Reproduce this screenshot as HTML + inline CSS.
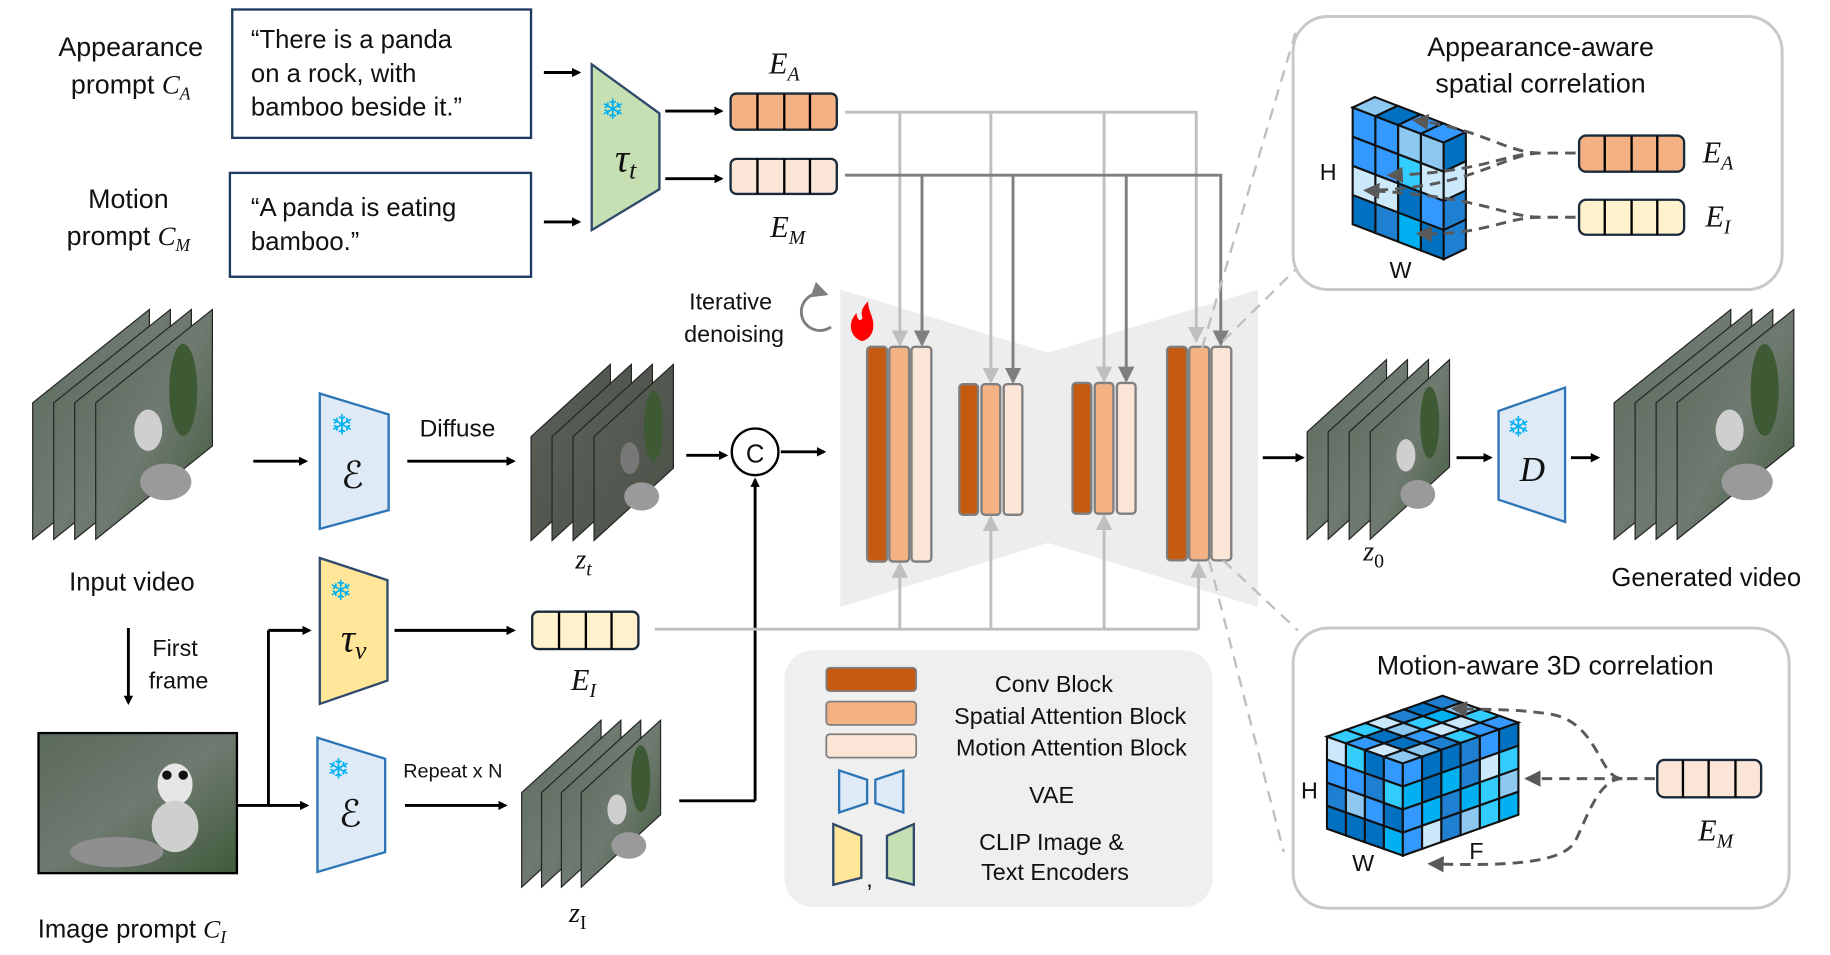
<!DOCTYPE html>
<html><head><meta charset="utf-8"><style>
html,body{margin:0;padding:0;background:#fff;}
svg{display:block;}
text{font-family:"Liberation Sans","DejaVu Sans",sans-serif;fill:#111;}
.m{font-family:"Liberation Serif","DejaVu Serif",serif;font-style:italic;}
</style></head><body>
<svg id="s" width="1830" height="955" viewBox="0 0 1568 818" xmlns="http://www.w3.org/2000/svg">
<defs>
<marker id="ab" markerWidth="8" markerHeight="8" refX="6" refY="4" orient="auto" markerUnits="userSpaceOnUse"><path d="M0,0 L8,4 L0,8 z" fill="#000"/></marker>
<marker id="al" markerWidth="14" markerHeight="14" refX="12" refY="7" orient="auto" markerUnits="userSpaceOnUse"><path d="M0,0 L14,7 L0,14 z" fill="#bfbfbf"/></marker>
<marker id="ad" markerWidth="14" markerHeight="14" refX="12" refY="7" orient="auto" markerUnits="userSpaceOnUse"><path d="M0,0 L14,7 L0,14 z" fill="#7f7f7f"/></marker>
<marker id="ag" markerWidth="14" markerHeight="14" refX="12" refY="7" orient="auto" markerUnits="userSpaceOnUse"><path d="M0,0 L14,7 L0,14 z" fill="#595959"/></marker>
<linearGradient id="pg" x1="0" y1="0" x2="1" y2="1"><stop offset="0" stop-color="#5a6a5c"/><stop offset="0.5" stop-color="#6f7a70"/><stop offset="1" stop-color="#3f5a3a"/></linearGradient>
<linearGradient id="ng" x1="0" y1="0" x2="1" y2="1"><stop offset="0" stop-color="#5b5f58"/><stop offset="1" stop-color="#4a5247"/></linearGradient>
</defs>

<polygon points="720,248 898,302 1078,248 1078,520 898,465 720,520" fill="#ededed"/>

<text x="112" y="48" font-size="23" text-anchor="middle">Appearance</text>
<text x="112" y="80" font-size="23" text-anchor="middle">prompt <tspan class="m">C</tspan><tspan class="m" font-size="15" dy="5">A</tspan></text>
<text x="110" y="178" font-size="23" text-anchor="middle">Motion</text>
<text x="110" y="210" font-size="23" text-anchor="middle">prompt <tspan class="m">C</tspan><tspan class="m" font-size="15" dy="5">M</tspan></text>
<rect x="199" y="8" width="256" height="110" fill="#fff" stroke="#1f3a5f" stroke-width="2"/>
<text x="215" y="41" font-size="22">“There is a panda</text>
<text x="215" y="70" font-size="22">on a rock, with</text>
<text x="215" y="99" font-size="22">bamboo beside it.”</text>
<rect x="197" y="148" width="258" height="89" fill="#fff" stroke="#1f3a5f" stroke-width="2"/>
<text x="215" y="185" font-size="22">“A panda is eating</text>
<text x="215" y="214" font-size="22">bamboo.”</text>

<g stroke="#000" stroke-width="2.5" marker-end="url(#ab)">
<line x1="466" y1="62" x2="496" y2="62"/>
<line x1="466" y1="190" x2="496" y2="190"/>
<line x1="570" y1="95" x2="618" y2="95"/>
<line x1="570" y1="153" x2="618" y2="153"/>
<line x1="217" y1="395" x2="262" y2="395"/>
<line x1="349" y1="395" x2="440" y2="395"/>
<line x1="588" y1="390" x2="622" y2="390"/>
<line x1="669" y1="387" x2="706" y2="387"/>
<line x1="110" y1="538" x2="110" y2="602"/>
<line x1="230" y1="540" x2="265" y2="540"/>
<line x1="230" y1="690" x2="263" y2="690"/>
<line x1="338" y1="540" x2="440" y2="540"/>
<line x1="347" y1="690" x2="433" y2="690"/>
<line x1="647" y1="686" x2="647" y2="411"/>
<line x1="1082" y1="392" x2="1116" y2="392"/>
<line x1="1248" y1="392" x2="1277" y2="392"/>
<line x1="1346" y1="392" x2="1369" y2="392"/>
</g>
<g stroke="#000" stroke-width="2.5" fill="none">
<polyline points="203,690 230,690 230,540"/>
<polyline points="582,686 647,686"/>
</g>

<polygon points="507,55 565,97 565,162 507,197" fill="#c6e0b4" stroke="#2f4a6a" stroke-width="2"/>
<text x="525" y="102" font-size="24" text-anchor="middle" style="fill:#00b0f0">❄</text>
<text x="536" y="147" class="m" font-size="34" text-anchor="middle">τ<tspan font-size="22" dy="6">t</tspan></text>

<rect x="626" y="80" width="91" height="31" rx="5" fill="#f4b183" stroke="#1a2a3a" stroke-width="2"/>
<rect x="626" y="136" width="91" height="30" rx="5" fill="#fbe5d6" stroke="#1a2a3a" stroke-width="2"/>
<rect x="456" y="524" width="91" height="32" rx="5" fill="#fff2cc" stroke="#1a2a3a" stroke-width="2"/>
<g stroke="#000" stroke-width="2">
<line x1="649" y1="80" x2="649" y2="111"/><line x1="672" y1="80" x2="672" y2="111"/><line x1="694" y1="80" x2="694" y2="111"/>
<line x1="649" y1="136" x2="649" y2="166"/><line x1="672" y1="136" x2="672" y2="166"/><line x1="694" y1="136" x2="694" y2="166"/>
<line x1="479" y1="524" x2="479" y2="556"/><line x1="502" y1="524" x2="502" y2="556"/><line x1="524" y1="524" x2="524" y2="556"/>
</g>
<text x="672" y="63" class="m" font-size="26" text-anchor="middle">E<tspan font-size="17" dy="6">A</tspan></text>
<text x="675" y="203" class="m" font-size="26" text-anchor="middle">E<tspan font-size="17" dy="6">M</tspan></text>
<text x="500" y="591" class="m" font-size="26" text-anchor="middle">E<tspan font-size="17" dy="6">I</tspan></text>

<g fill="none" stroke-width="2.5">
<polyline points="724,96 1025,96 1025,292" stroke="#bfbfbf" marker-end="url(#al)"/>
<line x1="771" y1="96" x2="771" y2="295" stroke="#bfbfbf" marker-end="url(#al)"/>
<line x1="849" y1="96" x2="849" y2="327" stroke="#bfbfbf" marker-end="url(#al)"/>
<line x1="946" y1="96" x2="946" y2="326" stroke="#bfbfbf" marker-end="url(#al)"/>
<polyline points="724,150 1046,150 1046,295" stroke="#7f7f7f" marker-end="url(#ad)"/>
<line x1="790" y1="150" x2="790" y2="295" stroke="#7f7f7f" marker-end="url(#ad)"/>
<line x1="868" y1="150" x2="868" y2="327" stroke="#7f7f7f" marker-end="url(#ad)"/>
<line x1="965" y1="150" x2="965" y2="326" stroke="#7f7f7f" marker-end="url(#ad)"/>
<polyline points="561,539 1027,539" stroke="#bfbfbf"/>
<line x1="771" y1="539" x2="771" y2="483" stroke="#bfbfbf" marker-end="url(#al)"/>
<line x1="849" y1="539" x2="849" y2="443" stroke="#bfbfbf" marker-end="url(#al)"/>
<line x1="946" y1="539" x2="946" y2="442" stroke="#bfbfbf" marker-end="url(#al)"/>
<line x1="1027" y1="539" x2="1027" y2="483" stroke="#bfbfbf" marker-end="url(#al)"/>
</g>

<g stroke="#7f7f7f" stroke-width="2">
<rect x="743" y="297" width="17" height="184" rx="3" fill="#c55a11"/>
<rect x="762" y="297" width="17" height="184" rx="3" fill="#f4b183"/>
<rect x="781" y="297" width="17" height="184" rx="3" fill="#fbe5d6"/>
<rect x="822" y="329" width="16" height="112" rx="3" fill="#c55a11"/>
<rect x="841" y="329" width="16" height="112" rx="3" fill="#f4b183"/>
<rect x="860" y="329" width="16" height="112" rx="3" fill="#fbe5d6"/>
<rect x="919" y="328" width="16" height="112" rx="3" fill="#c55a11"/>
<rect x="938" y="328" width="16" height="112" rx="3" fill="#f4b183"/>
<rect x="957" y="328" width="16" height="112" rx="3" fill="#fbe5d6"/>
<rect x="1000" y="297" width="17" height="183" rx="3" fill="#c55a11"/>
<rect x="1019" y="297" width="17" height="183" rx="3" fill="#f4b183"/>
<rect x="1038" y="297" width="17" height="183" rx="3" fill="#fbe5d6"/>
</g>

<text x="626" y="265" font-size="20" text-anchor="middle">Iterative</text>
<text x="629" y="293" font-size="20" text-anchor="middle">denoising</text>
<path d="M712,280 A16,16 0 1 1 708,252" fill="none" stroke="#7f7f7f" stroke-width="2.5" marker-end="url(#ad)"/>
<path d="M738,292 C728,288 726,276 734,268 C734,274 738,276 739,272 C737,266 740,262 744,258 C743,266 750,272 748,282 C747,288 742,292 738,292 z" fill="#ff0000"/>

<g id="frames"></g>

<text x="113" y="506" font-size="22" text-anchor="middle">Input video</text>
<text x="150" y="562" font-size="20" text-anchor="middle">First</text>
<text x="153" y="590" font-size="20" text-anchor="middle">frame</text>
<rect x="33" y="628" width="170" height="120" fill="url(#pg)" stroke="#000" stroke-width="2"/>
<ellipse cx="150" cy="672" rx="15" ry="18" fill="#e6e6e6"/><ellipse cx="143" cy="664" rx="4" ry="4" fill="#111"/><ellipse cx="157" cy="664" rx="4" ry="4" fill="#111"/>
<ellipse cx="150" cy="708" rx="20" ry="22" fill="#cfcfcf"/>
<ellipse cx="100" cy="730" rx="40" ry="13" fill="#8f8f8f"/>
<text x="113" y="803" font-size="22" text-anchor="middle">Image prompt <tspan class="m">C</tspan><tspan class="m" font-size="15" dy="5">I</tspan></text>

<polygon points="274,337 333,355 333,437 274,453" fill="#deebf7" stroke="#2e75b6" stroke-width="2"/>
<text x="293" y="372" font-size="24" text-anchor="middle" style="fill:#00b0f0">❄</text>
<text x="302" y="418" font-size="32" text-anchor="middle">ℰ</text>
<text x="392" y="374" font-size="21" text-anchor="middle">Diffuse</text>
<polygon points="274,478 332,497 332,583 274,603" fill="#ffe699" stroke="#2f4a6a" stroke-width="2"/>
<text x="292" y="514" font-size="24" text-anchor="middle" style="fill:#00b0f0">❄</text>
<text x="303" y="558" class="m" font-size="34" text-anchor="middle">τ<tspan font-size="22" dy="6">v</tspan></text>
<polygon points="272,632 330,650 330,730 272,747" fill="#deebf7" stroke="#2e75b6" stroke-width="2"/>
<text x="290" y="667" font-size="24" text-anchor="middle" style="fill:#00b0f0">❄</text>
<text x="300" y="708" font-size="32" text-anchor="middle">ℰ</text>
<text x="388" y="666" font-size="17" text-anchor="middle">Repeat x N</text>

<text x="500" y="487" class="m" font-size="24" text-anchor="middle">z<tspan font-size="17" dy="6">t</tspan></text>
<text x="495" y="790" class="m" font-size="24" text-anchor="middle">z<tspan font-size="17" dy="6" style="font-style:normal">I</tspan></text>
<text x="1177" y="480" class="m" font-size="24" text-anchor="middle">z<tspan font-size="17" dy="6" style="font-style:normal">0</tspan></text>

<circle cx="647" cy="387" r="20" fill="#fff" stroke="#000" stroke-width="2"/>
<text x="647" y="396" font-size="22" text-anchor="middle">C</text>

<polygon points="1284,352 1341,332 1341,447 1284,428" fill="#deebf7" stroke="#2e75b6" stroke-width="2"/>
<text x="1301" y="374" font-size="24" text-anchor="middle" style="fill:#00b0f0">❄</text>
<text x="1313" y="412" class="m" font-size="30" text-anchor="middle">D</text>
<text x="1462" y="502" font-size="22" text-anchor="middle">Generated video</text>

<rect x="672" y="557" width="367" height="220" rx="25" fill="#efefef"/>
<rect x="708" y="572" width="77" height="20" rx="3" fill="#c55a11" stroke="#7f7f7f" stroke-width="1.5"/>
<rect x="708" y="601" width="77" height="20" rx="3" fill="#f4b183" stroke="#7f7f7f" stroke-width="1.5"/>
<rect x="708" y="629" width="77" height="20" rx="3" fill="#fbe5d6" stroke="#7f7f7f" stroke-width="1.5"/>
<text x="903" y="593" font-size="20" text-anchor="middle">Conv Block</text>
<text x="917" y="620" font-size="20" text-anchor="middle">Spatial Attention Block</text>
<text x="918" y="647" font-size="20" text-anchor="middle">Motion Attention Block</text>
<polygon points="719,660 743,668 743,688 719,696" fill="#deebf7" stroke="#2e75b6" stroke-width="2"/>
<polygon points="750,668 774,660 774,696 750,688" fill="#deebf7" stroke="#2e75b6" stroke-width="2"/>
<text x="901" y="688" font-size="20" text-anchor="middle">VAE</text>
<polygon points="714,706 738,716 738,752 714,758" fill="#ffe699" stroke="#2f4a6a" stroke-width="2"/>
<text x="745" y="760" font-size="20" text-anchor="middle">,</text>
<polygon points="760,716 783,706 783,758 760,752" fill="#c6e0b4" stroke="#2f4a6a" stroke-width="2"/>
<text x="901" y="728" font-size="20" text-anchor="middle">CLIP Image &amp;</text>
<text x="904" y="754" font-size="20" text-anchor="middle">Text Encoders</text>

<g stroke="#bfbfbf" stroke-width="2" stroke-dasharray="10,7" fill="none">
<line x1="1030" y1="298" x2="1110" y2="28"/>
<line x1="1048" y1="292" x2="1115" y2="226"/>
<line x1="1048" y1="480" x2="1112" y2="540"/>
<line x1="1036" y1="480" x2="1100" y2="730"/>
</g>

<rect x="1108" y="14" width="419" height="234" rx="30" fill="#fff" stroke="#c8c8c8" stroke-width="2.5"/>
<text x="1320" y="48" font-size="23" text-anchor="middle">Appearance-aware</text>
<text x="1320" y="79" font-size="23" text-anchor="middle">spatial correlation</text>
<text x="1138" y="154" font-size="20" text-anchor="middle">H</text>
<text x="1200" y="238" font-size="20" text-anchor="middle">W</text>
<rect x="1353" y="116" width="90" height="31" rx="6" fill="#f4b183" stroke="#1a2a3a" stroke-width="2"/>
<rect x="1353" y="171" width="90" height="30" rx="6" fill="#fff2cc" stroke="#1a2a3a" stroke-width="2"/>
<g stroke="#000" stroke-width="2">
<line x1="1375" y1="116" x2="1375" y2="147"/><line x1="1398" y1="116" x2="1398" y2="147"/><line x1="1420" y1="116" x2="1420" y2="147"/>
<line x1="1375" y1="171" x2="1375" y2="201"/><line x1="1398" y1="171" x2="1398" y2="201"/><line x1="1420" y1="171" x2="1420" y2="201"/>
</g>
<text x="1472" y="139" class="m" font-size="26" text-anchor="middle">E<tspan font-size="17" dy="6">A</tspan></text>
<text x="1472" y="194" class="m" font-size="26" text-anchor="middle">E<tspan font-size="17" dy="6">I</tspan></text>

<rect x="1108" y="538" width="425" height="240" rx="30" fill="#fff" stroke="#c8c8c8" stroke-width="2.5"/>
<text x="1324" y="578" font-size="23" text-anchor="middle">Motion-aware 3D correlation</text>
<text x="1122" y="684" font-size="20" text-anchor="middle">H</text>
<text x="1168" y="746" font-size="20" text-anchor="middle">W</text>
<text x="1265" y="736" font-size="20" text-anchor="middle">F</text>
<rect x="1420" y="651" width="89" height="32" rx="6" fill="#fbe5d6" stroke="#1a2a3a" stroke-width="2"/>
<g stroke="#000" stroke-width="2">
<line x1="1442" y1="651" x2="1442" y2="683"/><line x1="1464" y1="651" x2="1464" y2="683"/><line x1="1487" y1="651" x2="1487" y2="683"/>
</g>
<text x="1470" y="720" class="m" font-size="26" text-anchor="middle">E<tspan font-size="17" dy="6">M</tspan></text>

<g id="cubes"></g>

<g stroke="#595959" stroke-width="2.5" stroke-dasharray="9,6" fill="none">
<path d="M1350,131 L1320,131 C1290,131 1270,110 1212,103" marker-end="url(#ag)"/>
<path d="M1320,131 C1290,131 1270,148 1190,150" marker-end="url(#ag)"/>
<path d="M1320,131 C1290,131 1260,162 1170,163"/>
<path d="M1350,186 L1320,186 C1290,186 1270,168 1170,163" marker-end="url(#ag)"/>
<path d="M1320,186 C1290,186 1270,202 1215,200" marker-end="url(#ag)"/>
<path d="M1418,667 L1390,667 C1370,667 1370,620 1330,612 C1300,607 1270,608 1245,607" marker-end="url(#ag)"/>
<path d="M1390,667 L1308,667" marker-end="url(#ag)"/>
<path d="M1390,667 C1370,667 1360,700 1350,720 C1340,740 1290,742 1225,740" marker-end="url(#ag)"/>
</g>
</svg>
<script>
var NS="http://www.w3.org/2000/svg";
function el(p,t,a){var e=document.createElementNS(NS,t);for(var k in a)e.setAttribute(k,a[k]);p.appendChild(e);return e;}
var fr=document.getElementById('frames');
function stack(x0,yTop,yBot,n,w,off,slope,fill,panda){
 for(var i=0;i<n;i++){var x=x0+i*off;
  el(fr,'polygon',{points:[x,yTop+slope,x+w,yTop,x+w,yBot-slope,x,yBot].join(','),fill:fill,stroke:'#222','stroke-width':1});
  if(panda&&i==n-1){
   el(fr,'ellipse',{cx:x+w*0.75,cy:yTop+(yBot-yTop)*0.35,rx:w*0.12,ry:(yBot-yTop)*0.2,fill:'#3e5a34'});
   el(fr,'ellipse',{cx:x+w*0.45,cy:(yTop+yBot)/2+5,rx:w*0.12,ry:(yBot-yTop)*0.09,fill:panda});
   el(fr,'ellipse',{cx:x+w*0.6,cy:yBot-(yBot-yTop)*0.25,rx:w*0.22,ry:(yBot-yTop)*0.08,fill:'#9a9a9a'});}
 }
}
stack(28,265,462,4,100,18,80,'url(#pg)','#cfcfcf');
stack(455,312,463,4,68,18,62,'url(#ng)','#777');
stack(447,617,760,4,68,17,62,'url(#pg)','#cfcfcf');
stack(1120,308,462,4,68,18,62,'url(#pg)','#cfcfcf');
stack(1383,265,462,4,100,18,80,'url(#pg)','#cfcfcf');
var cols=['#cce8fb','#0070c0','#33ccff','#3399ff','#8cc8f0','#00b0f0','#1f7fd0'];
var seed=7;function rnd(){seed=(seed*9301+49297)%233280;return cols[Math.floor(seed/233280*cols.length)];}
var cg=document.getElementById('cubes');
function quad(o,a,b,i,j){var p=[o[0]+a[0]*i+b[0]*j,o[1]+a[1]*i+b[1]*j];
 return [p[0],p[1],p[0]+a[0],p[1]+a[1],p[0]+a[0]+b[0],p[1]+a[1]+b[1],p[0]+b[0],p[1]+b[1]].join(',');}
function cube(O,W,H,D,nw,nh,nd){
 var w=[W[0]/nw,W[1]/nw],h=[H[0]/nh,H[1]/nh],d=[D[0]/nd,D[1]/nd];
 for(var i=0;i<nw;i++)for(var j=0;j<nh;j++)el(cg,'polygon',{points:quad(O,w,h,i,j),fill:rnd(),stroke:'#111','stroke-width':1.8});
 for(var i=0;i<nw;i++)for(var k=0;k<nd;k++)el(cg,'polygon',{points:quad(O,w,d,i,k),fill:rnd(),stroke:'#111','stroke-width':1.8});
 var O2=[O[0]+W[0],O[1]+W[1]];
 for(var k=0;k<nd;k++)for(var j=0;j<nh;j++)el(cg,'polygon',{points:quad(O2,d,h,k,j),fill:rnd(),stroke:'#111','stroke-width':1.8});
}
cube([1159,92],[78,30],[0,100],[19,-9],4,4,1);
cube([1137,631],[65,23],[0,79],[99,-35],4,4,6);
</script>
</body></html>
